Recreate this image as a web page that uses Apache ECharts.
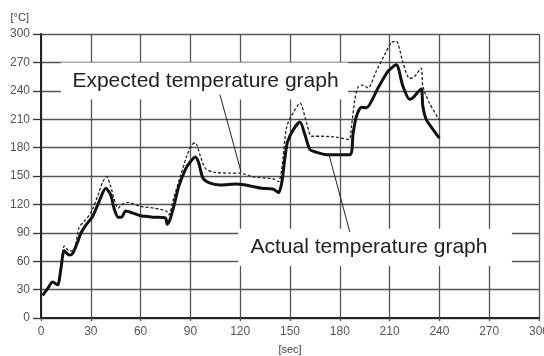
<!DOCTYPE html>
<html>
<head>
<meta charset="utf-8">
<script src="https://cdn.jsdelivr.net/npm/echarts@6/dist/echarts.min.js"></script>
<style>
html,body{margin:0;padding:0;background:#fff;}
#c{width:544px;height:356px;}
</style>
</head>
<body>
<div id="c"></div>
<script>
var xTicks = [0, 30, 60, 90, 120, 150, 180, 210, 240, 270, 300];
var yTicks = [0, 30, 60, 90, 120, 150, 180, 210, 240, 270, 300];

var actualSec  = [1, 4, 7, 10, 12, 14, 17, 19, 22, 24, 27, 31, 35, 39, 42, 44, 46.5, 48.5, 51, 55, 60, 68, 75, 76, 77.5, 80, 83, 87, 90, 93, 95, 97.5, 101, 108, 118, 126, 133, 140, 143, 145, 147, 148.5, 152, 156, 159, 162, 166, 172, 186, 188, 190, 193, 196, 203, 209, 214, 218, 222, 224, 229, 230, 232, 235, 240];
var actualTemp = [24, 31, 38, 35, 52, 71, 66.5, 68, 80, 89.5, 98, 107, 123, 137, 130, 116, 106.5, 106.5, 113, 111, 108, 106.5, 105.5, 99, 103, 118, 139, 157, 165, 170, 164, 148, 143, 140.5, 141.5, 139.5, 137, 136, 132.5, 142.5, 170, 186, 199, 207, 193.5, 178, 175, 172.5, 172.5, 195, 213, 222.5, 222, 243, 260.5, 267.5, 245, 231, 232.5, 242, 224, 210, 202, 190];

var expectedSec  = [1, 4, 7, 10, 12, 14, 17, 19.5, 23, 26, 30, 34, 37, 39.5, 42, 44, 46.5, 49, 52, 60, 68, 75.5, 77, 80, 84, 88, 91, 93, 96, 99, 104, 114, 120, 128, 140, 143, 145, 148, 152, 156, 160, 163, 170, 178, 185.5, 187, 189, 191, 194, 197, 202, 207, 211, 214, 218, 222, 225, 229, 230, 234, 240];
var expectedTemp = [24, 31, 38, 35, 55, 76, 71, 71, 96, 102, 111, 128, 143, 149.5, 139, 126, 116, 120, 122, 118, 116, 113, 109, 127, 150, 172, 183, 185, 171, 158, 154, 153, 153, 149, 147, 144, 157, 202, 217, 227, 206, 192, 192, 191, 188.5, 202, 230, 244, 246, 243, 261, 278, 291, 292.5, 270, 253, 255, 264, 245, 227, 209];

var labelExpected = "Expected temperature graph";
var labelActual = "Actual temperature graph";
var yName = "[°C]";
var xName = "[sec]";

function zip(a, b) { return a.map(function (v, i) { return [v, b[i]]; }); }

var FONT = "'Liberation Sans', Arial, sans-serif";
var chart = echarts.init(document.getElementById('c'), null, {renderer: 'canvas'});

var option = {
  animation: false,
  backgroundColor: '#fff',
  grid: {left: 41, right: 5, top: 34, bottom: 38, containLabel: false, outerBoundsMode: 'none'},
  xAxis: {
    type: 'value', min: xTicks[0], max: xTicks[xTicks.length - 1], interval: 30,
    name: xName, nameLocation: 'middle', nameGap: 26,
    nameTextStyle: {color: '#444', fontSize: 11, fontFamily: FONT},
    axisLine: {show: true, onZero: false, lineStyle: {color: '#222', width: 2}},
    axisTick: {show: true, length: 3, lineStyle: {color: '#555', width: 1.3}},
    axisLabel: {color: '#555', fontSize: 12, fontFamily: FONT, margin: 8, hideOverlap: false,
      formatter: function (v) { return xTicks.indexOf(v) >= 0 ? String(v) : ''; }},
    splitLine: {show: true, lineStyle: {color: '#555', width: 1.3}}
  },
  yAxis: {
    type: 'value', min: yTicks[0], max: yTicks[yTicks.length - 1], interval: 30,
    name: yName, nameLocation: 'end', nameGap: 11,
    nameTextStyle: {color: '#444', fontSize: 11, fontFamily: FONT, align: 'right', padding: [0, 12, 0, 0]},
    axisLine: {show: true, onZero: false, lineStyle: {color: '#222', width: 2}},
    axisTick: {show: true, length: 8, lineStyle: {color: '#333', width: 1.3}},
    axisLabel: {color: '#555', fontSize: 12, fontFamily: FONT, margin: 11,
      formatter: function (v) { return yTicks.indexOf(v) >= 0 ? String(v) : ''; }},
    splitLine: {show: true, lineStyle: {color: '#555', width: 1.3}}
  },
  series: [
    {
      name: 'Expected', type: 'line', data: zip(expectedSec, expectedTemp),
      showSymbol: false, smooth: 0.25, z: 3,
      lineStyle: {color: '#222', width: 1.3, type: [3, 2]}
    },
    {
      name: 'Actual', type: 'line', data: zip(actualSec, actualTemp),
      showSymbol: false, smooth: 0.25, z: 4,
      lineStyle: {color: '#111', width: 3}
    }
  ]
};
chart.setOption(option);

function px(p) { return chart.convertToPixel({gridIndex: 0}, p); }

// annotation boxes and leader lines anchored in data space
var e1 = px([12, 269.8]), e2 = px([185, 230.7]);
var a1 = px([118.7, 94.2]), a2 = px([283.7, 55]);
var le1 = px([107.8, 236]), le2 = px([120.5, 154.5]);
var la1 = px([173.5, 172.5]), la2 = px([186, 91]);

chart.setOption({
  graphic: [
    {type: 'rect', z: 50, shape: {x: e1[0], y: e1[1], width: e2[0] - e1[0], height: e2[1] - e1[1]}, style: {fill: '#fff'}},
    {type: 'rect', z: 50, shape: {x: a1[0], y: a1[1], width: a2[0] - a1[0], height: a2[1] - a1[1]}, style: {fill: '#fff'}},
    {type: 'text', z: 51, x: (e1[0] + e2[0]) / 2 + 1, y: (e1[1] + e2[1]) / 2,
      style: {text: labelExpected, fill: '#222', font: '21px ' + FONT, textAlign: 'center', textVerticalAlign: 'middle'}},
    {type: 'text', z: 51, x: (a1[0] + a2[0]) / 2 - 6, y: (a1[1] + a2[1]) / 2,
      style: {text: labelActual, fill: '#222', font: '21px ' + FONT, textAlign: 'center', textVerticalAlign: 'middle'}},
    {type: 'line', z: 52, shape: {x1: le1[0], y1: le1[1], x2: le2[0], y2: le2[1]}, style: {stroke: '#222', lineWidth: 1}},
    {type: 'line', z: 52, shape: {x1: la1[0], y1: la1[1], x2: la2[0], y2: la2[1]}, style: {stroke: '#222', lineWidth: 1}}
  ]
});
</script>
</body>
</html>
